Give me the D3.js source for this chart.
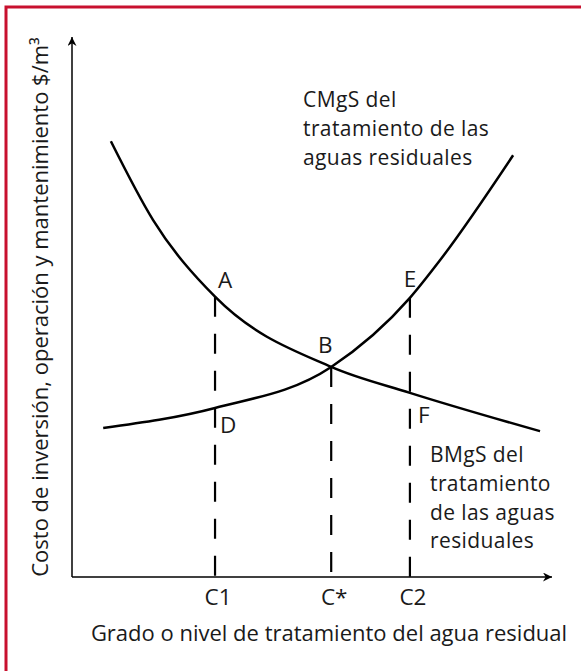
<!DOCTYPE html>
<html>
<head>
<meta charset="utf-8">
<script src="https://cdn.jsdelivr.net/npm/d3@7"></script>
<style>
  body { margin: 0; background: #fff; }
  svg text { font-family: "Open Sans", "Noto Sans", sans-serif; fill: #1a1a1a; }
</style>
</head>
<body>
<div id="chart"></div>
<script>
// grado de tratamiento (0-100) vs costo (0-100)
const bmgsX = [8.1, 16.9, 29.8, 54.0, 70.4, 97.5];
const bmgsY = [80.7, 66.1, 51.9, 38.9, 34.1, 27.0];
const cmgsX = [6.5, 29.8, 54.0, 70.4, 76.7, 91.9];
const cmgsY = [27.6, 31.3, 38.9, 51.7, 58.7, 78.1];

// levels on the x axis
const tickNames = ["C1", "C*", "C2"];
const tickVals  = [29.8, 54.0, 70.4];

// dashed lines: top value of each
const dropTops = [51.9, 38.9, 51.7];

// point labels
const pointNames = ["A", "B", "E", "D", "F"];
const pointX     = [29.8, 54.0, 70.4, 29.8, 70.4];
const pointY     = [51.9, 38.9, 51.7, 31.3, 34.1];

const cmgsLabel = ["CMgS del", "tratamiento de las", "aguas residuales"];
const bmgsLabel = ["BMgS del", "tratamiento", "de las aguas", "residuales"];
const yTitle = "Costo de inversión, operación y mantenimiento $/m³";
const xTitle = "Grado o nivel de tratamiento del agua residual";

const W = 581, H = 671;
const svg = d3.select("#chart").append("svg")
    .attr("width", W).attr("height", H);

// red frame
svg.append("rect")
    .attr("x", 6).attr("y", 7)
    .attr("width", 600).attr("height", 700)
    .attr("fill", "none")
    .attr("stroke", "#c8102e")
    .attr("stroke-width", 3);

const x = d3.scaleLinear().domain([0, 100]).range([72, 552]);
const y = d3.scaleLinear().domain([0, 100]).range([577, 37]);

// arrow marker
const defs = svg.append("defs");
defs.append("marker")
    .attr("id", "arrow")
    .attr("viewBox", "0 0 10 10")
    .attr("refX", 10).attr("refY", 5)
    .attr("markerWidth", 11).attr("markerHeight", 9)
    .attr("markerUnits", "userSpaceOnUse")
    .attr("orient", "auto")
    .append("path")
    .attr("d", "M0,0 L10,5 L0,10 L3,5 Z")
    .attr("fill", "#000");

// axes
svg.append("line")
    .attr("x1", x(0)).attr("y1", y(0))
    .attr("x2", x(0)).attr("y2", y(100))
    .attr("stroke", "#000").attr("stroke-width", 1.5)
    .attr("marker-end", "url(#arrow)");
svg.append("line")
    .attr("x1", x(0)).attr("y1", y(0))
    .attr("x2", x(100)).attr("y2", y(0))
    .attr("stroke", "#000").attr("stroke-width", 1.5)
    .attr("marker-end", "url(#arrow)");

// dashed drops
svg.selectAll(".drop")
    .data(tickVals)
    .join("line")
    .attr("class", "drop")
    .attr("x1", d => x(d)).attr("x2", d => x(d))
    .attr("y1", (d, i) => y(dropTops[i]))
    .attr("y2", y(0))
    .attr("stroke", "#000")
    .attr("stroke-width", 2.2)
    .attr("stroke-dasharray", "20,17");

// curves
const line = d3.line()
    .x(d => x(d[0])).y(d => y(d[1]))
    .curve(d3.curveMonotoneX);

svg.append("path")
    .datum(d3.zip(bmgsX, bmgsY))
    .attr("d", line)
    .attr("fill", "none").attr("stroke", "#000").attr("stroke-width", 2.5);
svg.append("path")
    .datum(d3.zip(cmgsX, cmgsY))
    .attr("d", line)
    .attr("fill", "none").attr("stroke", "#000").attr("stroke-width", 2.5);

// tick labels
svg.selectAll(".tlab")
    .data(tickNames)
    .join("text")
    .attr("class", "tlab")
    .attr("x", (d, i) => x(tickVals[i]) + 3)
    .attr("y", 605)
    .attr("text-anchor", "middle")
    .attr("font-size", 22.5)
    .text(d => d);

// point labels
const offs = { A: [10, -17], B: [-6, -22], E: [0, -19], D: [13, 17], F: [14, 22] };
svg.selectAll(".plab")
    .data(pointNames)
    .join("text")
    .attr("class", "plab")
    .attr("x", (d, i) => x(pointX[i]) + offs[d][0])
    .attr("y", (d, i) => y(pointY[i]) + offs[d][1])
    .attr("text-anchor", "middle")
    .attr("dominant-baseline", "central")
    .attr("font-size", 22.5)
    .text(d => d);

// curve names
const lineGap = 28.8;
svg.append("text")
    .attr("x", 303).attr("y", 107)
    .attr("font-size", 21)
    .attr("letter-spacing", 0.4)
    .selectAll("tspan")
    .data(cmgsLabel)
    .join("tspan")
    .attr("x", 303)
    .attr("dy", (d, i) => i ? lineGap : 0)
    .text(d => d);

svg.append("text")
    .attr("x", 430).attr("y", 462)
    .attr("font-size", 21)
    .attr("letter-spacing", 0.4)
    .selectAll("tspan")
    .data(bmgsLabel)
    .join("tspan")
    .attr("x", 430)
    .attr("dy", (d, i) => i ? lineGap : 0)
    .text(d => d);

// axis titles
svg.append("text")
    .attr("transform", "translate(48,307) rotate(-90)")
    .attr("text-anchor", "middle")
    .attr("font-size", 22)
    .text(yTitle);

svg.append("text")
    .attr("x", 329).attr("y", 641)
    .attr("text-anchor", "middle")
    .attr("font-size", 22)
    .text(xTitle);
</script>
</body>
</html>
